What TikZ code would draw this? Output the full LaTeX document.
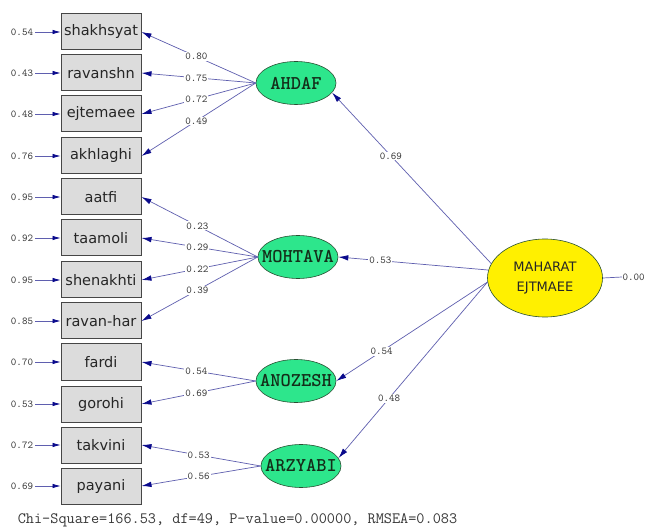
\documentclass[tikz,border=0pt]{standalone}
\usepackage{fontspec}
\setmainfont{DejaVu Sans}
\newfontfamily\latfont{lmmonolt10-bold.otf}
\usetikzlibrary{arrows.meta,shapes.geometric}

\definecolor{pathblue}{RGB}{95,95,175}
\definecolor{tipblue}{RGB}{10,10,140}
\definecolor{boxgray}{RGB}{220,220,220}
\definecolor{boxedge}{RGB}{70,70,70}
\definecolor{latgreen}{RGB}{45,230,140}
\definecolor{latedge}{RGB}{40,80,50}
\definecolor{lattext}{RGB}{20,45,25}
\definecolor{factyellow}{RGB}{255,240,0}
\definecolor{numgray}{RGB}{55,55,55}

% label set in a zero-width box so the ellipse keeps its fixed size
\newcommand\fixedlabel[1]{\makebox[0pt][c]{#1}}

\tikzset{
  indbox/.style={draw=boxedge, fill=boxgray, line width=1pt,
    minimum width=80pt, minimum height=36pt, inner sep=0pt,
    font=\fontsize{14.5}{17}\selectfont, text=black!85},
  latent/.style={ellipse, draw=latedge, fill=latgreen, line width=0.6pt,
    minimum width=80pt, minimum height=43pt, inner sep=0pt,
    font=\latfont\fontsize{19.5}{20}\selectfont, text=lattext},
  factor/.style={ellipse, draw=latedge, fill=factyellow, line width=0.6pt,
    minimum width=115pt, minimum height=78pt, inner sep=0pt, align=center,
    font=\fontsize{13}{20}\selectfont, text=black!85},
  loadarrow/.style={draw=pathblue, line width=0.7pt,
    -{Latex[length=10pt,width=5.5pt,color=tipblue]}},
  errarrow/.style={draw=pathblue, line width=0.7pt,
    -{Latex[length=8pt,width=4.5pt,color=tipblue]}},
  lab/.style={fill=white, inner sep=1pt,
    font=\ttfamily\fontsize{10.5}{11}\selectfont, text=numgray},
  errlab/.style={inner sep=2pt,
    font=\ttfamily\fontsize{10.5}{11}\selectfont, text=numgray},
}

\begin{document}
\begin{tikzpicture}[x=1pt,y=-1pt]
\useasboundingbox[fill=white] (0,0) rectangle (648,529);

% observed indicators with their error variances
\foreach \i/\yy/\name/\err in {
   1/32/shakhsyat/0.54, 2/73/ravanshn/0.43, 3/114/ejtemaee/0.48,
   4/156/akhlaghi/0.76, 5/197/aatfi/0.95, 6/238/taamoli/0.92,
   7/280/shenakhti/0.95, 8/321/ravan-har/0.85, 9/362/fardi/0.70,
   10/404/gorohi/0.53, 11/445/takvini/0.72, 12/486/payani/0.69}{
  \node[indbox] (b\i) at (101,\yy) {\name};
  \node[errlab] (e\i) at (22,\yy) {\err};
  \draw[errarrow] (e\i) -- (b\i.west);
}

% first-order latent factors
\node[latent] (AHDAF)   at (296,83)  {\fixedlabel{AHDAF}};
\node[latent] (MOHTAVA) at (298,257) {\fixedlabel{MOHTAVA}};
\node[latent] (ANOZESH) at (296,381) {\fixedlabel{ANOZESH}};
\node[latent] (ARZYABI) at (301,466) {\fixedlabel{ARZYABI}};

% second-order factor
\node[factor] (MAH) at (545,278) {MAHARAT\\EJTMAEE};
\node[errlab, anchor=west, inner sep=0.5pt] (MAHerr) at (622,277) {0.00};
\draw[draw=pathblue, line width=0.7pt] (MAH.east) -- (MAHerr.west);

% factor loadings
\foreach \f/\b/\v in {AHDAF/1/0.80, AHDAF/2/0.75, AHDAF/3/0.72, AHDAF/4/0.49,
    MOHTAVA/5/0.23, MOHTAVA/6/0.29, MOHTAVA/7/0.22, MOHTAVA/8/0.39,
    ANOZESH/9/0.54, ANOZESH/10/0.69, ARZYABI/11/0.53, ARZYABI/12/0.56}{
  \draw[loadarrow] (\f.west) -- node[lab,pos=0.52]{\v} (b\b.east);
}

% structural paths
\draw[loadarrow] (MAH.165) -- node[lab,pos=0.63]{0.69} (AHDAF.-15);
\draw[loadarrow] (MAH.172) -- node[lab,pos=0.72]{0.53} (MOHTAVA.east);
\draw[loadarrow] (MAH.184) -- node[lab,pos=0.70]{0.54} (ANOZESH.east);
\draw[loadarrow] (MAH.184) -- node[lab,pos=0.66]{0.48} (ARZYABI.12);

% fit statistics
\node[font=\ttfamily\fontsize{15.8}{17}\selectfont, text=numgray, inner sep=0pt]
  (fit) at (237.5,520) {Chi-Square=166.53, df=49, P-value=0.00000, RMSEA=0.083};
\end{tikzpicture}
\end{document}
